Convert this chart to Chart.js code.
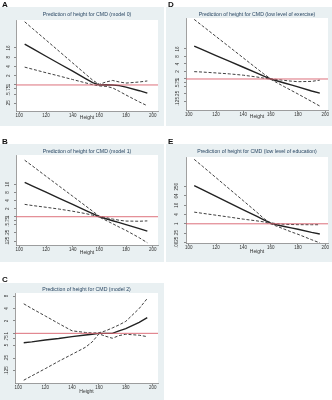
<!DOCTYPE html>
<html lang="en">
<head>
<meta charset="UTF-8">
<title>Prediction of height for CMD</title>
<script src="https://cdn.jsdelivr.net/npm/chart.js"></script>
<style>
  body { margin: 0; background: white; font-family: "Liberation Sans", Arial, sans-serif; }
  #wrap { position: relative; width: 332px; height: 400px; overflow: hidden; }
  canvas { position: absolute; }
  .letter { position: absolute; font-weight: bold; font-size: 8px; color: #111; }
</style>
</head>
<body>
<div id="wrap">
  <canvas id="chartA" width="164" height="119" style="left:0;top:7px"></canvas>
  <canvas id="chartD" width="166" height="119" style="left:166px;top:7px"></canvas>
  <canvas id="chartB" width="164" height="118" style="left:0;top:144px"></canvas>
  <canvas id="chartE" width="166" height="118" style="left:166px;top:144px"></canvas>
  <canvas id="chartC" width="164" height="117" style="left:0;top:283px"></canvas>
  <div class="letter" style="left:2px;top:0">A</div>
  <div class="letter" style="left:168px;top:0">D</div>
  <div class="letter" style="left:2px;top:137px">B</div>
  <div class="letter" style="left:168px;top:137px">E</div>
  <div class="letter" style="left:2px;top:275px">C</div>
</div>

<script>
  const heights = [104, 110, 120, 130, 140, 150, 155, 160, 165, 170, 175, 180, 190, 196];
  const refValue = 1; // red reference line
  const xTicks = [100, 120, 140, 160, 180, 200];

  // A - model 0
  const estA = [21.4, 15.2, 8.6, 4.9, 2.8, 1.57, 1.19, 1.0, 1.02, 1.0, 0.95, 0.85, 0.65, 0.54];
  const lowA = [3.8, 3.25, 2.5, 1.95, 1.5, 1.16, 1.02, 0.93, 0.9, 0.8, 0.62, 0.47, 0.28, 0.21];
  const upA  = [114, 68, 29, 12.3, 5.2, 2.2, 1.43, 1.05, 1.25, 1.4, 1.25, 1.15, 1.25, 1.35];
  const ticksA = [0.25, 0.5, 0.75, 1, 2, 4, 8, 16];

  // B - model 1
  const estB = [19, 13.8, 8.2, 4.8, 2.86, 1.69, 1.3, 1.0, 0.84, 0.71, 0.6, 0.51, 0.36, 0.29];
  const lowB = [2.88, 2.6, 2.25, 1.92, 1.6, 1.3, 1.14, 0.97, 0.73, 0.55, 0.41, 0.31, 0.165, 0.108];
  const upB  = [126, 76, 32, 13.6, 5.8, 2.46, 1.6, 1.05, 0.93, 0.82, 0.74, 0.69, 0.68, 0.7];
  const ticksB = [0.125, 0.25, 0.5, 0.75, 1, 2, 4, 8, 16];

  // C - model 2
  const estC = [0.59, 0.62, 0.69, 0.75, 0.83, 0.91, 0.95, 1.0, 1.0, 1.0, 1.15, 1.3, 1.85, 2.4];
  const lowC = [0.073, 0.093, 0.139, 0.21, 0.31, 0.46, 0.62, 0.97, 0.85, 0.76, 0.88, 0.95, 0.9, 0.83];
  const upC  = [5.2, 4.0, 2.64, 1.73, 1.15, 1.05, 1.02, 1.03, 1.15, 1.35, 1.6, 1.95, 4.0, 7.0];
  const ticksC = [0.125, 0.25, 0.5, 0.75, 1, 2, 4, 8];

  // D - low level of exercise
  const estD = [20.8, 15, 8.7, 5.1, 2.96, 1.72, 1.31, 1.0, 0.83, 0.69, 0.58, 0.48, 0.33, 0.27];
  const lowD = [1.97, 1.9, 1.75, 1.6, 1.42, 1.2, 1.08, 0.98, 0.69, 0.49, 0.35, 0.25, 0.125, 0.082];
  const upD  = [246, 136, 50.6, 18.9, 7.0, 2.6, 1.6, 1.02, 0.95, 0.88, 0.82, 0.78, 0.8, 0.9];
  const ticksD = [0.125, 0.25, 0.5, 0.75, 1, 2, 4, 8, 16];

  // E - low level of education
  const estE = [300, 162, 60, 22, 8.1, 3.0, 1.82, 1.1, 0.84, 0.67, 0.54, 0.44, 0.28, 0.22];
  const lowE = [5.7, 4.8, 3.6, 2.7, 2.0, 1.54, 1.33, 1.0, 0.67, 0.45, 0.3, 0.21, 0.093, 0.058];
  const upE  = [15000, 5440, 970, 174, 31, 5.5, 2.2, 1.15, 1.0, 0.93, 0.9, 0.88, 0.87, 0.87];
  const ticksE = [0.0625, 0.25, 1, 4, 16, 64, 256];

  // panel background (light bluish region + white plot area)
  const bgPlugin = {
    id: "bg",
    beforeDraw(chart) {
      const { ctx, chartArea: a } = chart;
      ctx.save();
      ctx.fillStyle = "#e9f0f2";
      ctx.fillRect(0, 0, chart.width, chart.height);
      ctx.fillStyle = "#ffffff";
      ctx.fillRect(a.left, a.top, a.right - a.left, a.bottom - a.top);
      ctx.restore();
    }
  };

  function pts(ys) {
    return heights.map((h, i) => ({ x: h, y: ys[i] }));
  }

  function fmt(v) {
    return v < 1 ? String(v).replace(/^0/, "") : String(v);
  }

  function makeChart(id, title, est, low, up, yTicks, s) {
    const dashed = { borderColor: "#404040", borderWidth: 1, borderDash: [3, 1.8], pointRadius: 0, fill: false };
    new Chart(document.getElementById(id), {
      type: "line",
      data: {
        datasets: [
          { data: [{ x: s.xMin, y: refValue }, { x: s.xMax, y: refValue }], borderColor: "#d8606c", borderWidth: 0.9, pointRadius: 0 },
          Object.assign({ data: pts(up) }, dashed),
          Object.assign({ data: pts(low) }, dashed),
          { data: pts(est), borderColor: "#222", borderWidth: 1.4, pointRadius: 0 }
        ]
      },
      options: {
        responsive: false,
        animation: false,
        layout: { padding: { top: 0, left: 0, right: s.padR, bottom: s.h - s.plotBottom - s.xH } },
        plugins: {
          legend: { display: false },
          tooltip: { enabled: false },
          title: {
            display: true,
            text: title,
            fullSize: false,
            color: "#2a4763",
            font: { size: 5.2, weight: "normal", lineHeight: 1, family: "'Liberation Sans', Arial, sans-serif" },
            padding: { top: s.titleY - 2.6, bottom: s.plotTop - s.titleY - 2.6 }
          }
        },
        scales: {
          x: {
            type: "linear",
            min: s.xMin,
            max: s.xMax,
            afterBuildTicks: (sc) => { sc.ticks = xTicks.map(v => ({ value: v })); },
            afterFit: (sc) => { sc.height = s.xH; },
            grid: { drawOnChartArea: false, tickLength: 2, color: "#888" },
            border: { color: "#888", width: 0.8 },
            ticks: { font: { size: 4.5 }, color: "#333", padding: 0, maxRotation: 0 },
            title: { display: true, text: "Height", font: { size: 5 }, color: "#333", padding: 0 }
          },
          y: {
            type: "logarithmic",
            min: s.yMin,
            max: s.yMax,
            afterBuildTicks: (sc) => { sc.ticks = yTicks.map(v => ({ value: v })); },
            afterFit: (sc) => { sc.width = s.yW; },
            grid: { drawOnChartArea: false, tickLength: 2, color: "#888" },
            border: { color: "#888", width: 0.8 },
            ticks: {
              font: { size: 4.5 }, color: "#333", padding: 2, autoSkip: false,
              minRotation: 90, maxRotation: 90, crossAlign: "center",
              callback: (v) => fmt(v)
            }
          }
        }
      },
      plugins: [bgPlugin]
    });
  }

  makeChart("chartA", "Prediction of height for CMD (model 0)", estA, lowA, upA, ticksA,
    { h: 119, yW: 16, padR: 6, plotTop: 13, plotBottom: 104, xH: 10, titleY: 8, xMin: 97.5, xMax: 204, yMin: 0.142, yMax: 130 });
  makeChart("chartD", "Prediction of height for CMD (low level of exercise)", estD, lowD, upD, ticksD,
    { h: 119, yW: 20, padR: 4, plotTop: 11, plotBottom: 103, xH: 10, titleY: 8, xMin: 98, xMax: 202, yMin: 0.057, yMax: 280 });
  makeChart("chartB", "Prediction of height for CMD (model 1)", estB, lowB, upB, ticksB,
    { h: 118, yW: 16, padR: 6, plotTop: 11, plotBottom: 101, xH: 11, titleY: 8, xMin: 97.5, xMax: 204, yMin: 0.089, yMax: 197 });
  makeChart("chartE", "Prediction of height for CMD (low level of education)", estE, lowE, upE, ticksE,
    { h: 118, yW: 20, padR: 4, plotTop: 13, plotBottom: 99, xH: 12, titleY: 8, xMin: 98, xMax: 202, yMin: 0.057, yMax: 21300 });
  makeChart("chartC", "Prediction of height for CMD (model 2)", estC, lowC, upC, ticksC,
    { h: 117, yW: 15, padR: 6, plotTop: 10, plotBottom: 100, xH: 12, titleY: 7, xMin: 97.5, xMax: 204, yMin: 0.0625, yMax: 9.5 });
</script>
</body>
</html>
